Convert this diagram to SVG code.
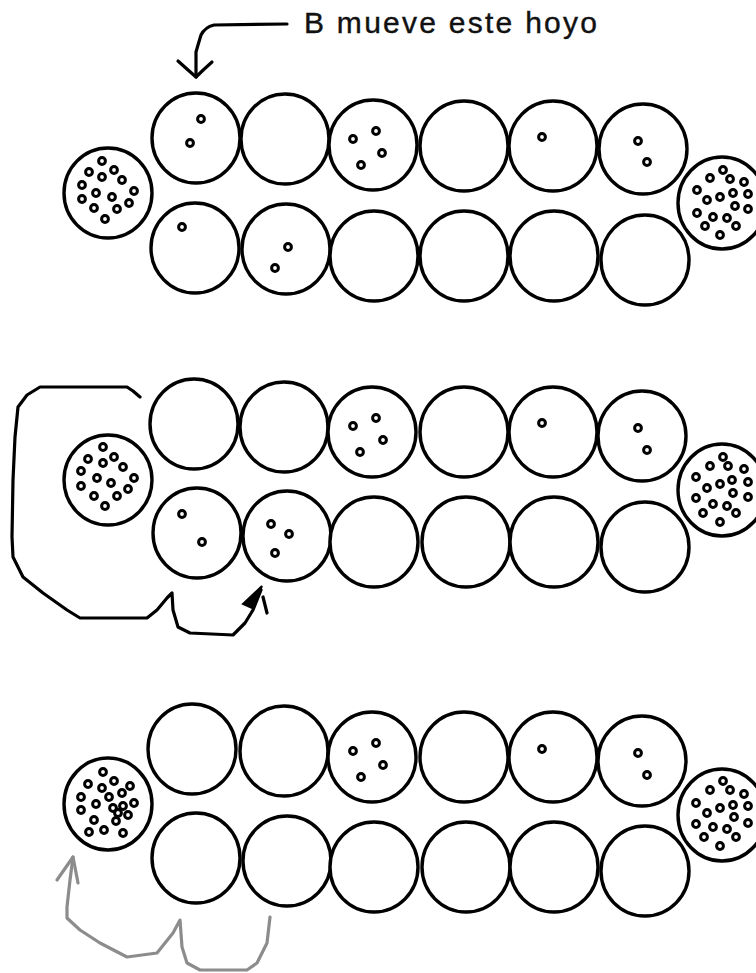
<svg xmlns="http://www.w3.org/2000/svg" width="756" height="973" viewBox="0 0 756 973">
<style>
.pit{fill:#fff;stroke:#000;stroke-width:3.4}
.seed{fill:none;stroke:#000;stroke-width:3}
.lbl{font-family:"Liberation Sans",Arial,sans-serif;font-size:30px;fill:#111;stroke:#111;stroke-width:0.4}
.conn{fill:none;stroke:#000;stroke-width:3.2;stroke-linejoin:round;stroke-linecap:round}
.conng{fill:none;stroke:#8c8c8c;stroke-width:3.2;stroke-linejoin:round;stroke-linecap:round}
</style>
<defs>
<circle id="s" r="3.4" class="seed"/>
</defs>
<rect width="756" height="973" fill="#fff"/>

<g id="label">
<text class="lbl" x="304" y="33" textLength="293" lengthAdjust="spacing">B mueve este hoyo</text>
</g>

<g id="connectors">
<path class="conn" d="M287,24 L214,25 C206,27 203,31 201,35 L198,45 L196,52 L196,77"/>
<path class="conn" d="M178,61 Q188,70 196,77 Q203,70 212,62"/>
<path class="conn" d="M140,397 L133,391 L127,387 L40,387 L27,395 L18,407 L15,437 L13,480 L12,537 L13,557 L23,577 L43,593 L67,610 L80,618 L147,618 L157,610 L167,598 L172,593 L173,610 L178,627 L190,633 L233,635 L245,623 L253,610 L261,590"/>
<path d="M262,586 L243,604 L252,608 Z" fill="#000" stroke="#000" stroke-width="2"/>
<path class="conn" d="M263,597 L267,613"/>
<path class="conng" d="M270,917 L267,943 L257,963 L247,970 L200,970 L187,963 L182,947 L180,920 L173,933 L157,953 L127,957 L100,943 L80,930 L67,918 L67,907 L70,880 L73,857"/>
<path class="conng" d="M57,880 L73,857 L78,883"/>
</g>

<!-- Section 1 -->
<g id="s1-store-left"><ellipse class="pit" cx="108" cy="193" rx="44" ry="45"/>
<use href="#s" x="102" y="161"/><use href="#s" x="89" y="172"/><use href="#s" x="114" y="170"/><use href="#s" x="102" y="177"/><use href="#s" x="122" y="180"/><use href="#s" x="82" y="185"/><use href="#s" x="134" y="191"/><use href="#s" x="96" y="193"/><use href="#s" x="112" y="197"/><use href="#s" x="82" y="199"/><use href="#s" x="129" y="203"/><use href="#s" x="117" y="209"/><use href="#s" x="94" y="208"/><use href="#s" x="105" y="219"/></g>
<g id="s1-t1"><ellipse class="pit" cx="196" cy="138" rx="44" ry="45"/><use href="#s" x="201" y="119"/><use href="#s" x="190" y="143"/></g>
<g id="s1-t2"><ellipse class="pit" cx="285" cy="139" rx="44" ry="45"/></g>
<g id="s1-t3"><ellipse class="pit" cx="373" cy="145" rx="44" ry="45"/><use href="#s" x="353" y="139"/><use href="#s" x="376" y="131"/><use href="#s" x="382" y="153"/><use href="#s" x="361" y="165"/></g>
<g id="s1-t4"><ellipse class="pit" cx="464" cy="146" rx="44" ry="45"/></g>
<g id="s1-t5"><ellipse class="pit" cx="553" cy="146" rx="44" ry="45"/><use href="#s" x="542" y="137"/></g>
<g id="s1-t6"><ellipse class="pit" cx="643" cy="149" rx="44" ry="45"/><use href="#s" x="638" y="141"/><use href="#s" x="647" y="162"/></g>
<g id="s1-b1"><ellipse class="pit" cx="195" cy="248" rx="44" ry="45"/><use href="#s" x="182" y="227"/></g>
<g id="s1-b2"><ellipse class="pit" cx="286" cy="249" rx="44" ry="45"/><use href="#s" x="288" y="247"/><use href="#s" x="275" y="268"/></g>
<g id="s1-b3"><ellipse class="pit" cx="374" cy="256" rx="44" ry="45"/></g>
<g id="s1-b4"><ellipse class="pit" cx="464" cy="256" rx="44" ry="45"/></g>
<g id="s1-b5"><ellipse class="pit" cx="554" cy="256" rx="44" ry="45"/></g>
<g id="s1-b6"><ellipse class="pit" cx="645" cy="260" rx="44" ry="45"/></g>
<g id="s1-store-right"><ellipse class="pit" cx="722" cy="203" rx="44" ry="46"/>
<use href="#s" x="723" y="170"/><use href="#s" x="710" y="178"/><use href="#s" x="730" y="179"/><use href="#s" x="744" y="182"/><use href="#s" x="697" y="190"/><use href="#s" x="733" y="193"/><use href="#s" x="720" y="197"/><use href="#s" x="748" y="194"/><use href="#s" x="707" y="200"/><use href="#s" x="735" y="206"/><use href="#s" x="748" y="209"/><use href="#s" x="697" y="213"/><use href="#s" x="713" y="217"/><use href="#s" x="727" y="218"/><use href="#s" x="705" y="226"/><use href="#s" x="736" y="226"/><use href="#s" x="720" y="235"/></g>

<!-- Section 2 -->
<g id="s2-store-left"><ellipse class="pit" cx="108" cy="480" rx="44" ry="45"/>
<use href="#s" x="103" y="447"/><use href="#s" x="88" y="459"/><use href="#s" x="103" y="463"/><use href="#s" x="114" y="457"/><use href="#s" x="123" y="467"/><use href="#s" x="81" y="471"/><use href="#s" x="134" y="478"/><use href="#s" x="97" y="478"/><use href="#s" x="111" y="483"/><use href="#s" x="81" y="486"/><use href="#s" x="128" y="489"/><use href="#s" x="117" y="496"/><use href="#s" x="94" y="496"/><use href="#s" x="105" y="506"/></g>
<g id="s2-t1"><ellipse class="pit" cx="194" cy="424" rx="44" ry="45"/></g>
<g id="s2-t2"><ellipse class="pit" cx="284" cy="427" rx="44" ry="45"/></g>
<g id="s2-t3"><ellipse class="pit" cx="372" cy="432" rx="44" ry="45"/><use href="#s" x="353" y="426"/><use href="#s" x="376" y="418"/><use href="#s" x="383" y="440"/><use href="#s" x="360" y="452"/></g>
<g id="s2-t4"><ellipse class="pit" cx="464" cy="432" rx="44" ry="45"/></g>
<g id="s2-t5"><ellipse class="pit" cx="553" cy="432" rx="44" ry="45"/><use href="#s" x="542" y="423"/></g>
<g id="s2-t6"><ellipse class="pit" cx="642" cy="436" rx="44" ry="45"/><use href="#s" x="638" y="428"/><use href="#s" x="647" y="450"/></g>
<g id="s2-b1"><ellipse class="pit" cx="197" cy="533" rx="44" ry="45"/><use href="#s" x="182" y="514"/><use href="#s" x="202" y="542"/></g>
<g id="s2-b2"><ellipse class="pit" cx="287" cy="536" rx="44" ry="45"/><use href="#s" x="271" y="524"/><use href="#s" x="289" y="534"/><use href="#s" x="275" y="553"/></g>
<g id="s2-b3"><ellipse class="pit" cx="374" cy="542" rx="44" ry="45"/></g>
<g id="s2-b4"><ellipse class="pit" cx="466" cy="542" rx="44" ry="45"/></g>
<g id="s2-b5"><ellipse class="pit" cx="554" cy="542" rx="44" ry="45"/></g>
<g id="s2-b6"><ellipse class="pit" cx="645" cy="547" rx="44" ry="45"/></g>
<g id="s2-store-right"><ellipse class="pit" cx="722" cy="490" rx="44" ry="46"/>
<use href="#s" x="723" y="457"/><use href="#s" x="710" y="466"/><use href="#s" x="728" y="466"/><use href="#s" x="744" y="469"/><use href="#s" x="696" y="477"/><use href="#s" x="732" y="480"/><use href="#s" x="720" y="484"/><use href="#s" x="748" y="482"/><use href="#s" x="707" y="488"/><use href="#s" x="733" y="493"/><use href="#s" x="748" y="497"/><use href="#s" x="696" y="498"/><use href="#s" x="713" y="504"/><use href="#s" x="727" y="506"/><use href="#s" x="703" y="513"/><use href="#s" x="736" y="513"/><use href="#s" x="720" y="522"/></g>

<!-- Section 3 -->
<g id="s3-store-left"><ellipse class="pit" cx="108" cy="804" rx="44" ry="46"/>
<use href="#s" x="103" y="772"/><use href="#s" x="88" y="784"/><use href="#s" x="114" y="781"/><use href="#s" x="130" y="786"/><use href="#s" x="102" y="788"/><use href="#s" x="109" y="797"/><use href="#s" x="122" y="793"/><use href="#s" x="81" y="797"/><use href="#s" x="134" y="803"/><use href="#s" x="96" y="804"/><use href="#s" x="113" y="808"/><use href="#s" x="123" y="806"/><use href="#s" x="81" y="810"/><use href="#s" x="128" y="815"/><use href="#s" x="118" y="813"/><use href="#s" x="94" y="820"/><use href="#s" x="116" y="821"/><use href="#s" x="89" y="832"/><use href="#s" x="104" y="830"/><use href="#s" x="123" y="833"/></g>
<g id="s3-t1"><ellipse class="pit" cx="192" cy="749" rx="44" ry="45"/></g>
<g id="s3-t2"><ellipse class="pit" cx="284" cy="751" rx="44" ry="45"/></g>
<g id="s3-t3"><ellipse class="pit" cx="372" cy="757" rx="44" ry="45"/><use href="#s" x="353" y="751"/><use href="#s" x="376" y="743"/><use href="#s" x="383" y="765"/><use href="#s" x="361" y="777"/></g>
<g id="s3-t4"><ellipse class="pit" cx="464" cy="757" rx="44" ry="45"/></g>
<g id="s3-t5"><ellipse class="pit" cx="553" cy="757" rx="44" ry="45"/><use href="#s" x="542" y="749"/></g>
<g id="s3-t6"><ellipse class="pit" cx="642" cy="761" rx="44" ry="45"/><use href="#s" x="638" y="753"/><use href="#s" x="647" y="775"/></g>
<g id="s3-b1"><ellipse class="pit" cx="196" cy="858" rx="44" ry="45"/></g>
<g id="s3-b2"><ellipse class="pit" cx="287" cy="861" rx="44" ry="45"/></g>
<g id="s3-b3"><ellipse class="pit" cx="374" cy="867" rx="44" ry="45"/></g>
<g id="s3-b4"><ellipse class="pit" cx="466" cy="867" rx="44" ry="45"/></g>
<g id="s3-b5"><ellipse class="pit" cx="554" cy="867" rx="44" ry="45"/></g>
<g id="s3-b6"><ellipse class="pit" cx="645" cy="871" rx="44" ry="45"/></g>
<g id="s3-store-right"><ellipse class="pit" cx="722" cy="815" rx="44" ry="46"/>
<use href="#s" x="723" y="781"/><use href="#s" x="710" y="790"/><use href="#s" x="730" y="790"/><use href="#s" x="744" y="794"/><use href="#s" x="696" y="803"/><use href="#s" x="733" y="805"/><use href="#s" x="720" y="808"/><use href="#s" x="748" y="806"/><use href="#s" x="707" y="813"/><use href="#s" x="734" y="817"/><use href="#s" x="748" y="823"/><use href="#s" x="696" y="824"/><use href="#s" x="713" y="827"/><use href="#s" x="727" y="829"/><use href="#s" x="704" y="837"/><use href="#s" x="736" y="837"/><use href="#s" x="720" y="846"/></g>
</svg>
